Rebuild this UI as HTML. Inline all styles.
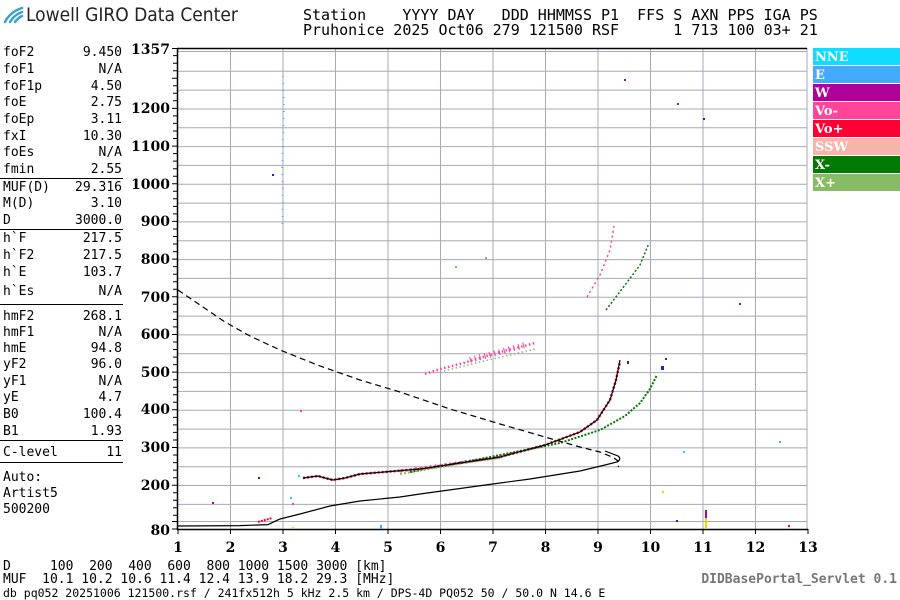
<!DOCTYPE html>
<html><head><meta charset="utf-8"><style>
body{margin:0;background:#fff;}
svg{display:block;}
.m{font-family:"DejaVu Sans Mono","Liberation Mono",monospace;font-size:13px;fill:#000;}
.h{font-family:"DejaVu Sans Mono","Liberation Mono",monospace;font-size:15px;fill:#000;}
.t{font-family:"DejaVu Serif","Liberation Serif",serif;font-size:14px;font-weight:bold;fill:#000;}
.lg{font-family:"DejaVu Serif","Liberation Serif",serif;font-size:13px;font-weight:bold;fill:#fff;}
</style></head><body>
<svg width="900" height="600" viewBox="0 0 900 600" xmlns="http://www.w3.org/2000/svg">
<rect width="900" height="600" fill="#fff"/>
<g stroke="#3aa0d0" stroke-width="2.5" fill="none" stroke-linecap="round">
<path d="M5 22 Q10 12 22 8"/><path d="M10 22 Q14 15 22 12"/><path d="M15 22 Q18 18 22 16"/>
</g>
<text x="26" y="21" style="font-family:'DejaVu Sans Condensed','Liberation Sans Narrow','Liberation Sans',sans-serif;font-size:19px;fill:#222">Lowell GIRO Data Center</text>
<text class="h" x="303" y="20" xml:space="preserve">Station    YYYY DAY   DDD HHMMSS P1  FFS S AXN PPS IGA PS</text>
<text class="h" x="303" y="35" xml:space="preserve">Pruhonice 2025 Oct06 279 121500 RSF      1 713 100 03+ 21</text>

<g class="m">
<text x="3" y="56">foF2</text><text x="122" y="56" text-anchor="end">9.450</text>
<text x="3" y="73">foF1</text><text x="122" y="73" text-anchor="end">N/A</text>
<text x="3" y="90">foF1p</text><text x="122" y="90" text-anchor="end">4.50</text>
<text x="3" y="106">foE</text><text x="122" y="106" text-anchor="end">2.75</text>
<text x="3" y="123">foEp</text><text x="122" y="123" text-anchor="end">3.11</text>
<text x="3" y="140">fxI</text><text x="122" y="140" text-anchor="end">10.30</text>
<text x="3" y="156">foEs</text><text x="122" y="156" text-anchor="end">N/A</text>
<text x="3" y="173">fmin</text><text x="122" y="173" text-anchor="end">2.55</text>
<text x="3" y="191">MUF(D)</text><text x="122" y="191" text-anchor="end">29.316</text>
<text x="3" y="207">M(D)</text><text x="122" y="207" text-anchor="end">3.10</text>
<text x="3" y="224">D</text><text x="122" y="224" text-anchor="end">3000.0</text>
<text x="3" y="242">h`F</text><text x="122" y="242" text-anchor="end">217.5</text>
<text x="3" y="259">h`F2</text><text x="122" y="259" text-anchor="end">217.5</text>
<text x="3" y="276">h`E</text><text x="122" y="276" text-anchor="end">103.7</text>
<text x="3" y="295">h`Es</text><text x="122" y="295" text-anchor="end">N/A</text>
<text x="3" y="320">hmF2</text><text x="122" y="320" text-anchor="end">268.1</text>
<text x="3" y="336">hmF1</text><text x="122" y="336" text-anchor="end">N/A</text>
<text x="3" y="352">hmE</text><text x="122" y="352" text-anchor="end">94.8</text>
<text x="3" y="368">yF2</text><text x="122" y="368" text-anchor="end">96.0</text>
<text x="3" y="385">yF1</text><text x="122" y="385" text-anchor="end">N/A</text>
<text x="3" y="401">yE</text><text x="122" y="401" text-anchor="end">4.7</text>
<text x="3" y="418">B0</text><text x="122" y="418" text-anchor="end">100.4</text>
<text x="3" y="435">B1</text><text x="122" y="435" text-anchor="end">1.93</text>
<text x="3" y="456">C-level</text><text x="122" y="456" text-anchor="end">11</text>
<text x="3" y="481">Auto:</text>
<text x="3" y="497">Artist5</text>
<text x="3" y="513">500200</text>
</g>
<g stroke="#000" stroke-width="1">
<line x1="0" y1="178.5" x2="123" y2="178.5"/>
<line x1="0" y1="229.5" x2="123" y2="229.5"/>
<line x1="0" y1="304.5" x2="123" y2="304.5"/>
<line x1="0" y1="440.5" x2="123" y2="440.5"/>
<line x1="0" y1="462.5" x2="123" y2="462.5"/>
</g>

<g stroke="#a8a8b8" stroke-width="1">
<line x1="230.5" y1="49" x2="230.5" y2="529"/><line x1="283" y1="49" x2="283" y2="529"/>
<line x1="335.5" y1="49" x2="335.5" y2="529"/><line x1="388" y1="49" x2="388" y2="529"/>
<line x1="440.5" y1="49" x2="440.5" y2="529"/><line x1="493" y1="49" x2="493" y2="529"/>
<line x1="545.5" y1="49" x2="545.5" y2="529"/><line x1="598" y1="49" x2="598" y2="529"/>
<line x1="650.5" y1="49" x2="650.5" y2="529"/><line x1="703" y1="49" x2="703" y2="529"/>
<line x1="755.5" y1="49" x2="755.5" y2="529"/>
<line x1="178" y1="51.5" x2="807" y2="51.5"/>
<line x1="178" y1="71.3" x2="807" y2="71.3"/><line x1="178" y1="90.1" x2="807" y2="90.1"/>
<line x1="178" y1="109" x2="807" y2="109"/><line x1="178" y1="127.8" x2="807" y2="127.8"/>
<line x1="178" y1="146.6" x2="807" y2="146.6"/><line x1="178" y1="165.4" x2="807" y2="165.4"/>
<line x1="178" y1="184.3" x2="807" y2="184.3"/><line x1="178" y1="203.1" x2="807" y2="203.1"/>
<line x1="178" y1="221.9" x2="807" y2="221.9"/><line x1="178" y1="240.8" x2="807" y2="240.8"/>
<line x1="178" y1="259.6" x2="807" y2="259.6"/><line x1="178" y1="278.4" x2="807" y2="278.4"/>
<line x1="178" y1="297.2" x2="807" y2="297.2"/><line x1="178" y1="316.1" x2="807" y2="316.1"/>
<line x1="178" y1="334.9" x2="807" y2="334.9"/><line x1="178" y1="353.7" x2="807" y2="353.7"/>
<line x1="178" y1="372.6" x2="807" y2="372.6"/><line x1="178" y1="391.4" x2="807" y2="391.4"/>
<line x1="178" y1="410.2" x2="807" y2="410.2"/><line x1="178" y1="429.1" x2="807" y2="429.1"/>
<line x1="178" y1="447.9" x2="807" y2="447.9"/><line x1="178" y1="466.7" x2="807" y2="466.7"/>
<line x1="178" y1="485.5" x2="807" y2="485.5"/><line x1="178" y1="504.4" x2="807" y2="504.4"/>
<line x1="178" y1="521.5" x2="807" y2="521.5"/>
<line x1="807" y1="48" x2="807" y2="529"/>
</g>
<g stroke="#000" stroke-width="1.5" fill="none">
<line x1="177" y1="48.5" x2="807" y2="48.5"/>
<line x1="177.5" y1="48" x2="177.5" y2="530"/>
<line x1="177" y1="529.5" x2="808" y2="529.5"/>
</g>
<g stroke="#000" stroke-width="1">
<path d="M172 48.5h6M173 55.6h5M173 63.2h5M173 70.7h5M172 78.2h6M173 85.8h5M173 93.3h5M173 100.8h5M172 108.4h6M173 115.9h5M173 123.4h5M173 131h5M173 138.5h5M172 146.1h6M173 153.6h5M173 161.1h5M173 168.7h5M173 176.2h5M172 183.8h6M173 191.3h5M173 198.8h5M173 206.4h5M173 213.9h5M172 221.4h6M173 229h5M173 236.5h5M173 244h5M173 251.6h5M172 259.1h6M173 266.6h5M173 274.2h5M173 281.7h5M173 289.3h5M172 296.8h6M173 304.3h5M173 311.9h5M173 319.4h5M173 326.9h5M172 334.5h6M173 342h5M173 349.5h5M173 357.1h5M173 364.6h5M172 372.1h6M173 379.7h5M173 387.2h5M173 394.8h5M173 402.3h5M172 409.8h6M173 417.4h5M173 424.9h5M173 432.4h5M173 440h5M172 447.5h6M173 455h5M173 462.6h5M173 470.1h5M173 477.7h5M172 485.2h6M173 492.7h5M173 500.3h5M173 507.8h5M173 515.3h5M172 521.5h6M172 529h6"/>
<path d="M178 529v5M230.5 529v5M283 529v5M335.5 529v5M388 529v5M440.5 529v5M493 529v5M545.5 529v5M598 529v5M650.5 529v5M703 529v5M755.5 529v5M808 529v5"/>
</g>
<g class="t" text-anchor="end">
<text x="170" y="54">1357</text><text x="170" y="113">1200</text><text x="170" y="151">1100</text>
<text x="170" y="189">1000</text><text x="170" y="226">900</text><text x="170" y="264">800</text>
<text x="170" y="302">700</text><text x="170" y="339">600</text><text x="170" y="377">500</text>
<text x="170" y="414">400</text><text x="170" y="452">300</text><text x="170" y="490">200</text>
<text x="170" y="535">80</text>
</g>
<g class="t" text-anchor="middle">
<text x="178" y="552">1</text><text x="230.5" y="552">2</text><text x="283" y="552">3</text>
<text x="335.5" y="552">4</text><text x="388" y="552">5</text><text x="440.5" y="552">6</text>
<text x="493" y="552">7</text><text x="545.5" y="552">8</text><text x="598" y="552">9</text>
<text x="650.5" y="552">10</text><text x="703" y="552">11</text><text x="755.5" y="552">12</text>
<text x="808" y="552">13</text>
</g>

<g fill="none">
<path d="M425 374 L440 369 L460 364 L480 358 L500 352 L520 347 L535 343" stroke="#ff4499" stroke-width="2.5" stroke-dasharray="1.5 2.5"/>
<path d="M440 372 L480 362 L510 355 L535 349" stroke="#88bb66" stroke-width="1.5" stroke-dasharray="1.5 2.5"/>
<path d="M470 360 L500 352 L525 345" stroke="#ff4499" stroke-width="6" stroke-dasharray="1 4"/>
<path d="M303 478 L318 476 L325 478 L333 480 L345 478 L360 474 L420 469 L500 457 L545 445 L580 432 L597 420 L610 400 L616 380 L620 362" stroke="#ff0033" stroke-width="2.5" stroke-dasharray="2 2"/>
<path d="M400 471 L450 464 L500 457" stroke="#ff4499" stroke-width="3" stroke-dasharray="2 3"/>
<path d="M410 472 L480 459 L560 443 L600 430 L625 416 L640 403 L650 389 L657 375" stroke="#007a00" stroke-width="2" stroke-dasharray="2 1.5"/>
<path d="M400 474 L470 462 L500 458" stroke="#88bb66" stroke-width="2" stroke-dasharray="2 2"/>
<path d="M587 297 L600 275 L610 250 L614 226" stroke="#ff4499" stroke-width="1.5" stroke-dasharray="2 3"/>
<path d="M606 310 L625 285 L640 265 L649 243" stroke="#007a00" stroke-width="1.5" stroke-dasharray="2 2"/>
<path d="M258 522 L265 520 L272 518" stroke="#ff0033" stroke-width="2" stroke-dasharray="2 1"/>
<path d="M283 76 L284 110 L283 140 L282 170 L283 200 L282 230" stroke="#44aaff" stroke-width="1.5" stroke-dasharray="1 6"/>
</g>
<g>
<rect x="272" y="174" width="2" height="2" fill="#2222cc"/>
<rect x="300" y="410" width="2" height="2" fill="#ff4499"/>
<rect x="298" y="475" width="2" height="2" fill="#10dcff"/>
<rect x="290" y="497" width="2" height="2" fill="#10dcff"/>
<rect x="292" y="503" width="2" height="2" fill="#ff4499"/>
<rect x="258" y="477" width="2" height="2" fill="#2222cc"/>
<rect x="380" y="525" width="2" height="4" fill="#44aaff"/>
<rect x="292" y="527" width="2" height="2" fill="#dddd00"/>
<rect x="624" y="79" width="2" height="2" fill="#b0009a"/>
<rect x="677" y="103" width="2" height="2" fill="#007a00"/>
<rect x="703" y="118" width="2" height="2" fill="#2222cc"/>
<rect x="739" y="303" width="2" height="2" fill="#b0009a"/>
<rect x="665" y="358" width="2" height="2" fill="#2222cc"/>
<rect x="661" y="366" width="3" height="4" fill="#2222cc"/>
<rect x="627" y="361" width="2" height="3" fill="#2222cc"/>
<rect x="485" y="257" width="2" height="2" fill="#88bb66"/>
<rect x="455" y="266" width="2" height="2" fill="#88bb66"/>
<rect x="705" y="510" width="2" height="19" fill="#b0009a"/>
<rect x="705" y="518" width="2" height="11" fill="#dddd00"/>
<rect x="779" y="441" width="2" height="2" fill="#44aaff"/>
<rect x="683" y="451" width="2" height="2" fill="#10dcff"/>
<rect x="662" y="491" width="2" height="2" fill="#dddd00"/>
<rect x="212" y="502" width="2" height="2" fill="#b0009a"/>
<rect x="788" y="525" width="2" height="2" fill="#ff0033"/>
<rect x="676" y="520" width="2" height="2" fill="#2222cc"/>
</g>
<g fill="none" stroke="#000" stroke-width="1.2">
<path d="M178 526 L240 525.6 L268 524.6 L280 519 L300 514 L330 506 L360 501 L400 497 L420 494 L500 483 L530 479 L580 471 L605 465 L617 462 Q622 459 618 456 L605 451"/>
<path d="M303 478 L318 476 L325 478 L333 480 L345 478 L360 474 L420 469 L500 457 L545 445 L580 432 L597 420 L610 400 L616 380 L620 360"/>
</g>
<path d="M178 290 L200 305 L225 322 L250 336 L280 350 L320 366 L360 380 L400 392 L450 409 L500 424 L545 437 L580 447 L600 452 L612 457 Q622 462 618 467" fill="none" stroke="#000" stroke-width="1.2" stroke-dasharray="6 4"/>

<g>
<rect x="813" y="48" width="87" height="17" fill="#10dcff"/>
<rect x="813" y="66" width="87" height="17" fill="#44aaff"/>
<rect x="813" y="84" width="87" height="17" fill="#b0009a"/>
<rect x="813" y="102" width="87" height="17" fill="#ff4499"/>
<rect x="813" y="120" width="87" height="17" fill="#ff0033"/>
<rect x="813" y="138" width="87" height="17" fill="#f5b5aa"/>
<rect x="813" y="156" width="87" height="17" fill="#007a00"/>
<rect x="813" y="174" width="87" height="17" fill="#88bb66"/>
</g>
<g class="lg">
<text x="815" y="61">NNE</text><text x="815" y="79">E</text><text x="815" y="97">W</text>
<text x="815" y="115">Vo-</text><text x="815" y="133">Vo+</text><text x="815" y="151">SSW</text>
<text x="815" y="169">X-</text><text x="815" y="187">X+</text>
</g>

<text class="m" x="3" y="570" xml:space="preserve">D     100  200  400  600  800 1000 1500 3000 [km]</text>
<text class="m" x="3" y="583" xml:space="preserve">MUF  10.1 10.2 10.6 11.4 12.4 13.9 18.2 29.3 [MHz]</text>
<text x="3" y="597" style="font-family:'DejaVu Sans Mono','Liberation Mono',monospace;font-size:11.5px">db pq052 20251006 121500.rsf / 241fx512h 5 kHz 2.5 km / DPS-4D PQ052 50 / 50.0 N 14.6 E</text>
<text x="897" y="583" text-anchor="end" style="font-family:'DejaVu Sans Mono','Liberation Mono',monospace;font-size:13px;font-weight:bold;fill:#777">DIDBasePortal_Servlet 0.1</text>
</svg>
</body></html>
